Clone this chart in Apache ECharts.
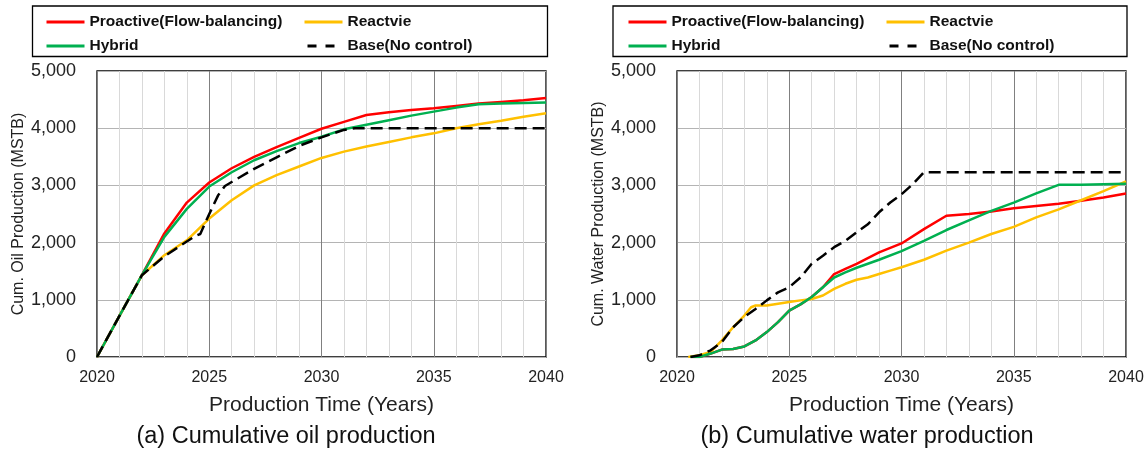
<!DOCTYPE html>
<html>
<head>
<meta charset="utf-8">
<script src="https://cdn.jsdelivr.net/npm/echarts@6/dist/echarts.min.js"></script>
<style>
html,body{margin:0;padding:0;background:#fff;}
#c{width:1148px;height:450px;}
</style>
</head>
<body>
<div id="c"></div>
<script>
// ---------- DATA ----------
const xTicks = [2020, 2025, 2030, 2035, 2040];
const yTicks = [0, 1000, 2000, 3000, 4000, 5000];
const seriesNames = ['Proactive(Flow-balancing)', 'Reactvie', 'Hybrid', 'Base(No control)'];

// (a) Cumulative oil production
const oilYears = [2020,2021,2022,2023,2024,2025,2026,2027,2028,2029,2030,2031,2032,2033,2034,2035,2036,2037,2038,2039,2040];
const oilProactive = [0,720,1430,2160,2700,3050,3300,3500,3670,3830,3990,4110,4230,4280,4320,4350,4390,4430,4460,4490,4530];
const oilReactive  = [0,720,1430,1780,2040,2420,2740,3000,3180,3330,3480,3590,3680,3760,3840,3910,4000,4070,4130,4200,4260];
const oilHybrid    = [0,720,1430,2100,2590,2980,3230,3440,3600,3740,3850,3980,4060,4140,4220,4290,4360,4420,4430,4440,4450];
const oilBaseYears = [2020,2021,2022,2023,2024,2024.4,2024.6,2025,2025.4,2025.7,2026,2027,2028,2029,2030,2031,2031.5,2032,2040];
const oilBase      = [0,720,1430,1760,2020,2120,2150,2500,2830,2990,3060,3290,3490,3690,3840,3970,4000,4000,4000];

// (b) Cumulative water production
const watYears = [2020.6,2021,2021.5,2022,2022.5,2023,2023.5,2024,2024.5,2025,2025.5,2026,2026.5,2027,2027.5,2028,2029,2030,2031,2032,2033,2034,2035,2036,2037,2038,2039,2040];
const watProactive = [0,0,60,130,140,185,290,435,610,810,920,1050,1220,1450,1540,1630,1830,1985,2235,2470,2500,2545,2600,2640,2680,2730,2790,2860];
const watHybrid    = [0,0,60,130,140,185,290,435,610,810,920,1050,1220,1390,1480,1560,1700,1850,2030,2220,2390,2555,2700,2860,3010,3010,3020,3030];
const watReactYears = [2020.5,2021,2021.5,2022,2022.5,2023,2023.3,2023.5,2024,2024.5,2025,2025.5,2026,2026.5,2027,2027.5,2028,2028.5,2029,2029.5,2030,2031,2032,2033,2034,2035,2036,2037,2038,2039,2040];
const watReactive  = [0,30,90,290,520,725,870,900,900,930,960,990,1015,1075,1190,1280,1350,1390,1450,1510,1570,1700,1860,2000,2150,2275,2440,2580,2740,2900,3070];
const watBaseYears = [2020.6,2021,2021.5,2022,2022.5,2023,2023.5,2024,2024.5,2025,2025.5,2026,2026.5,2027,2027.5,2028,2028.5,2029,2029.5,2030,2030.5,2031,2040];
const watBase      = [0,30,116,260,520,700,840,990,1130,1220,1390,1630,1770,1920,2030,2180,2320,2530,2700,2845,3020,3230,3230];

const colors = ['#ff0000', '#ffc000', '#00b050', '#000000'];

// ---------- CHART ----------
const FONT = '"Liberation Sans", Arial, sans-serif';
const pair = (xs, ys) => xs.map((x, i) => [x, ys[i]]);
const fmt = v => v.toLocaleString('en-US');

function xAxis(gi) {
  return {
    type: 'value', gridIndex: gi, min: xTicks[0], max: xTicks[xTicks.length - 1], interval: 5,
    name: 'Production Time (Years)', nameLocation: 'middle', nameGap: 38,
    nameTextStyle: { fontFamily: FONT, fontSize: 21, color: '#222' },
    axisLine: { show: false }, axisTick: { show: false },
    axisLabel: { fontFamily: FONT, fontSize: 16, color: '#222', margin: 13, formatter: v => String(v) },
    splitLine: { show: true, lineStyle: { color: '#808080', width: 1 } },
    minorTick: { show: false, splitNumber: 5 },
    minorSplitLine: { show: true, lineStyle: { color: '#d9d9d9', width: 1 } }
  };
}
function yAxis(gi, name) {
  return {
    type: 'value', gridIndex: gi, min: yTicks[0], max: yTicks[yTicks.length - 1], interval: 1000,
    name: name, nameLocation: 'middle', nameGap: 70,
    nameTextStyle: { fontFamily: FONT, fontSize: 16, color: '#222' },
    axisLine: { show: false }, axisTick: { show: false },
    axisLabel: { fontFamily: FONT, fontSize: 18, color: '#222', margin: 21, formatter: fmt },
    splitLine: { show: true, lineStyle: { color: '#b4b4b4', width: 1 } }
  };
}
function line(name, gi, data, idx) {
  return {
    name: name, type: 'line', xAxisIndex: gi, yAxisIndex: gi, data: data,
    showSymbol: false, symbol: 'none', smooth: false, z: 2 + idx,
    lineStyle: { color: colors[idx], width: 2.5, type: idx === 3 ? [12, 6] : 'solid' },
    itemStyle: { color: colors[idx] }
  };
}
function legendItem(name) {
  const it = { name: name };
  if (name === seriesNames[3]) it.lineStyle = { type: [9, 9], dashOffset: 15, width: 3 };
  return it;
}
function legend(left, names) {
  return {
    left: left, top: 13, orient: 'vertical', itemGap: 6, itemWidth: 38, itemHeight: 14,
    padding: 0,
    data: names.map(legendItem), selectedMode: false,
    itemStyle: { opacity: 0 },
    lineStyle: { width: 3 },
    textStyle: { fontFamily: FONT, fontSize: 15.5, fontWeight: 'bold', color: '#111', lineHeight: 18 }
  };
}

const chart = echarts.init(document.getElementById('c'), null, { renderer: 'canvas' });
chart.setOption({
  animation: false,
  backgroundColor: '#fff',
  grid: [
    { left: 97, top: 71, width: 449, height: 286, show: true, borderColor: '#000', borderWidth: 1.3, backgroundColor: 'transparent' },
    { left: 677, top: 71, width: 449, height: 286, show: true, borderColor: '#000', borderWidth: 1.3, backgroundColor: 'transparent' }
  ],
  xAxis: [xAxis(0), xAxis(1)],
  yAxis: [yAxis(0, 'Cum. Oil Production (MSTB)'), yAxis(1, 'Cum. Water Production (MSTB)')],
  legend: [
    legend(45, [seriesNames[0], seriesNames[2]]),
    legend(303, [seriesNames[1], seriesNames[3]]),
    legend(627, [seriesNames[0], seriesNames[2]]),
    legend(885, [seriesNames[1], seriesNames[3]])
  ],
  graphic: [
    { type: 'rect', shape: { x: 32.5, y: 6, width: 515, height: 50.5 }, style: { fill: 'none', stroke: '#000', lineWidth: 1.3 } },
    { type: 'rect', shape: { x: 613, y: 6, width: 514, height: 50.5 }, style: { fill: 'none', stroke: '#000', lineWidth: 1.3 } },
    { type: 'text', x: 286, y: 437, style: { text: '(a) Cumulative oil production', font: '23.5px ' + FONT, fill: '#111', textAlign: 'center', textVerticalAlign: 'middle' } },
    { type: 'text', x: 867, y: 437, style: { text: '(b) Cumulative water production', font: '23.5px ' + FONT, fill: '#111', textAlign: 'center', textVerticalAlign: 'middle' } }
  ],
  series: [
    line(seriesNames[0], 0, pair(oilYears, oilProactive), 0),
    line(seriesNames[1], 0, pair(oilYears, oilReactive), 1),
    line(seriesNames[2], 0, pair(oilYears, oilHybrid), 2),
    line(seriesNames[3], 0, pair(oilBaseYears, oilBase), 3),
    line(seriesNames[0], 1, pair(watYears, watProactive), 0),
    line(seriesNames[1], 1, pair(watReactYears, watReactive), 1),
    line(seriesNames[2], 1, pair(watYears, watHybrid), 2),
    line(seriesNames[3], 1, pair(watBaseYears, watBase), 3)
  ]
});
</script>
</body>
</html>
